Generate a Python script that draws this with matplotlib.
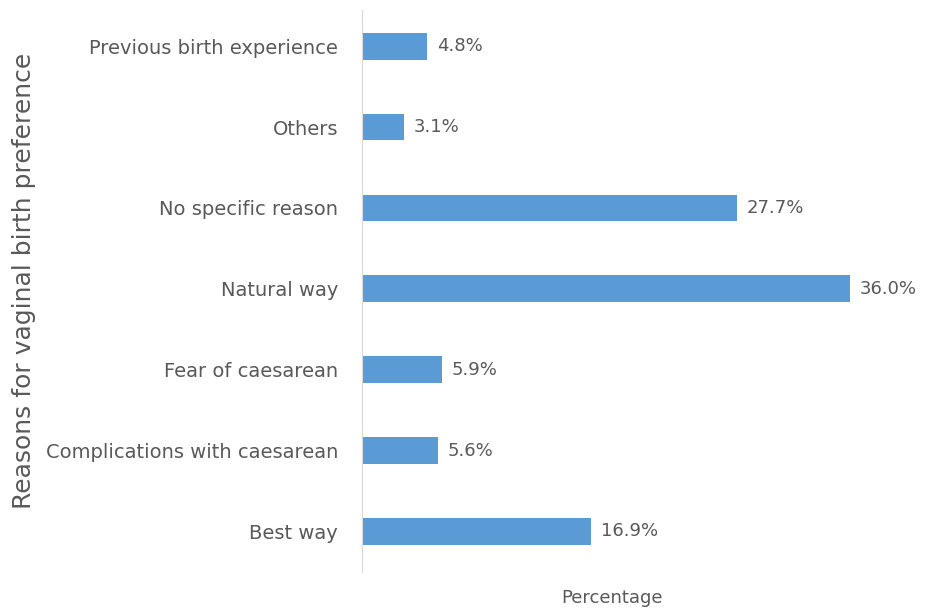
import matplotlib
matplotlib.use("Agg")
import matplotlib.pyplot as plt

# reasons listed bottom to top, as they appear on the chart
reasons = ["Best way", "Complications with caesarean", "Fear of caesarean",
           "Natural way", "No specific reason", "Others", "Previous birth experience"]
percent = [16.9, 5.6, 5.9, 36.0, 27.7, 3.1, 4.8]
labels = ["16.9%", "5.6%", "5.9%", "36.0%", "27.7%", "3.1%", "4.8%"]

plt.rcParams["font.family"] = ["DejaVu Sans"]
grey = "#595959"

fig = plt.figure(figsize=(9.35, 6.11), dpi=100)
ax = fig.add_axes([0.387, 0.064, 0.535, 0.92])

ax.barh(range(len(reasons)), percent, height=0.33, color="#5B9BD5")
for i, (v, t) in enumerate(zip(percent, labels)):
    ax.annotate(t, (v, i), xytext=(7, 0), textcoords="offset points",
                va="center", ha="left", fontsize=13, color=grey, clip_on=False)

ax.set_xlim(0, 36.9)
ax.set_ylim(-0.5, 6.45)
ax.set_yticks(range(len(reasons)))
ax.set_yticklabels(reasons, fontsize=14, color=grey)
ax.tick_params(axis="y", length=0, pad=17)
ax.set_xticks([])

for s in ["top", "right", "bottom"]:
    ax.spines[s].set_visible(False)
ax.spines["left"].set_color("#D9D9D9")

ax.set_xlabel("Percentage", fontsize=13, color=grey, labelpad=12)
fig.text(0.026, 0.54, "Reasons for vaginal birth preference", rotation=90,
         ha="center", va="center", fontsize=18, color=grey)

fig.savefig("out.png", dpi=100)
